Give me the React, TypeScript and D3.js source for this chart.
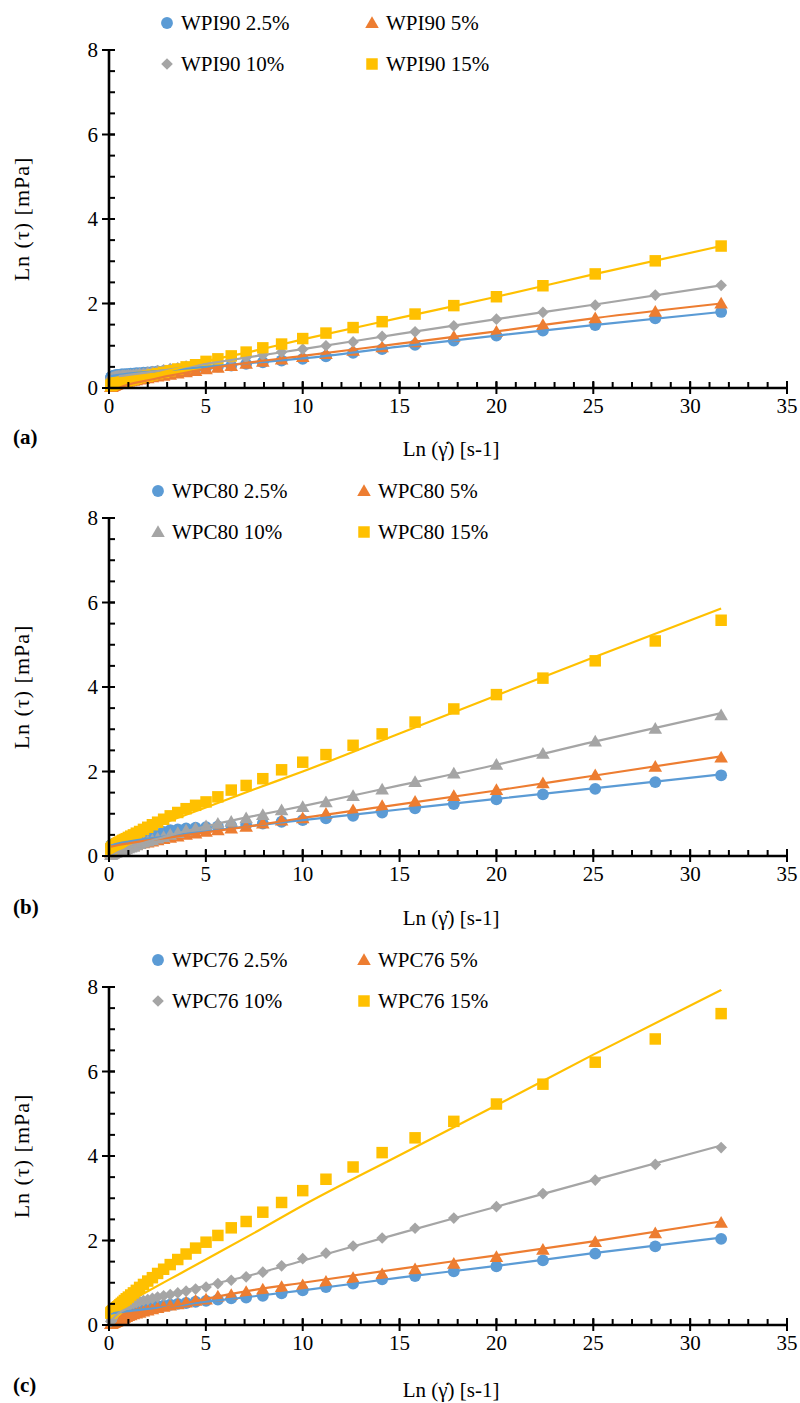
import React from 'react';
import * as d3 from 'd3';

// shear rate steps (same for every sample)
const shearRate = [
  0.1, 0.112, 0.126, 0.141, 0.158, 0.178, 0.2, 0.224, 0.251, 0.282,
  0.316, 0.355, 0.398, 0.447, 0.501, 0.562, 0.631, 0.708, 0.794, 0.891,
  1.0, 1.12, 1.26, 1.41, 1.58, 1.78, 2.0, 2.24, 2.51, 2.82,
  3.16, 3.55, 3.98, 4.47, 5.01, 5.62, 6.31, 7.08, 7.94, 8.91,
  10.0, 11.2, 12.6, 14.1, 15.8, 17.8, 20.0, 22.4, 25.1, 28.2, 31.6,
];

// x positions where the model curves were read
const fitRate = [0.1, 0.5, 1, 2, 3, 5, 7.5, 10, 15, 20, 25, 31.6];

// (a) WPI90
const wpi90_2_5 = [
  0.25, 0.25, 0.26, 0.26, 0.27, 0.27, 0.28, 0.28, 0.29, 0.29,
  0.30, 0.30, 0.30, 0.31, 0.31, 0.31, 0.32, 0.32, 0.32, 0.33,
  0.33, 0.34, 0.34, 0.35, 0.35, 0.36, 0.37, 0.38, 0.39, 0.40,
  0.41, 0.43, 0.44, 0.46, 0.49, 0.51, 0.53, 0.57, 0.61, 0.65,
  0.69, 0.75, 0.83, 0.92, 1.02, 1.12, 1.24, 1.36, 1.49, 1.65, 1.80,
];
const wpi90_5 = [
  0.02, 0.02, 0.03, 0.03, 0.04, 0.04, 0.05, 0.05, 0.06, 0.06,
  0.07, 0.07, 0.08, 0.09, 0.10, 0.10, 0.11, 0.12, 0.13, 0.14,
  0.15, 0.16, 0.17, 0.18, 0.20, 0.21, 0.23, 0.25, 0.27, 0.29,
  0.31, 0.34, 0.37, 0.40, 0.44, 0.48, 0.52, 0.57, 0.62, 0.67,
  0.73, 0.80, 0.88, 0.96, 1.08, 1.21, 1.33, 1.49, 1.65, 1.80, 2.00,
];
const wpi90_10 = [
  0.22, 0.22, 0.23, 0.23, 0.24, 0.24, 0.25, 0.25, 0.26, 0.26,
  0.27, 0.27, 0.28, 0.28, 0.29, 0.29, 0.29, 0.30, 0.30, 0.30,
  0.31, 0.31, 0.32, 0.33, 0.34, 0.35, 0.37, 0.39, 0.41, 0.43,
  0.46, 0.48, 0.52, 0.55, 0.58, 0.62, 0.67, 0.72, 0.78, 0.85,
  0.92, 1.00, 1.09, 1.22, 1.33, 1.47, 1.63, 1.79, 1.96, 2.20, 2.43,
];
const wpi90_15 = [
  0.06, 0.06, 0.07, 0.07, 0.08, 0.08, 0.09, 0.09, 0.10, 0.10,
  0.11, 0.11, 0.12, 0.12, 0.13, 0.13, 0.14, 0.15, 0.16, 0.17,
  0.18, 0.19, 0.21, 0.23, 0.25, 0.27, 0.28, 0.31, 0.34, 0.37,
  0.41, 0.45, 0.50, 0.55, 0.63, 0.69, 0.76, 0.85, 0.95, 1.04,
  1.17, 1.30, 1.43, 1.57, 1.75, 1.95, 2.16, 2.42, 2.70, 3.01, 3.36,
];
const fitWpi90_2_5 = [0.28, 0.31, 0.34, 0.38, 0.42, 0.50, 0.60, 0.70, 0.98, 1.24, 1.49, 1.80];
const fitWpi90_5 = [null, 0.0, 0.08, 0.18, 0.28, 0.45, 0.62, 0.76, 1.05, 1.34, 1.65, 2.0];
const fitWpi90_10 = [null, 0.28, 0.31, 0.37, 0.43, 0.57, 0.75, 0.92, 1.28, 1.63, 1.97, 2.43];
const fitWpi90_15 = [0.05, 0.10, 0.17, 0.29, 0.40, 0.63, 0.88, 1.15, 1.66, 2.16, 2.69, 3.36];

// (b) WPC80
const wpc80_2_5 = [
  0.25, 0.25, 0.26, 0.26, 0.27, 0.27, 0.28, 0.28, 0.29, 0.29,
  0.30, 0.30, 0.31, 0.31, 0.31, 0.32, 0.32, 0.33, 0.33, 0.33,
  0.34, 0.35, 0.36, 0.38, 0.40, 0.42, 0.44, 0.47, 0.52, 0.57,
  0.61, 0.63, 0.65, 0.67, 0.68, 0.70, 0.72, 0.74, 0.77, 0.81,
  0.85, 0.89, 0.95, 1.03, 1.13, 1.23, 1.34, 1.46, 1.59, 1.75, 1.91,
];
const wpc80_5 = [
  0.08, 0.08, 0.09, 0.09, 0.10, 0.10, 0.11, 0.11, 0.12, 0.12,
  0.13, 0.13, 0.14, 0.14, 0.15, 0.16, 0.17, 0.18, 0.19, 0.20,
  0.21, 0.22, 0.24, 0.26, 0.28, 0.30, 0.32, 0.34, 0.37, 0.40,
  0.43, 0.46, 0.50, 0.53, 0.57, 0.61, 0.65, 0.69, 0.77, 0.84,
  0.89, 1.00, 1.08, 1.18, 1.28, 1.42, 1.56, 1.72, 1.91, 2.11, 2.33,
];
const wpc80_10 = [
  0.03, 0.03, 0.04, 0.04, 0.05, 0.05, 0.06, 0.06, 0.07, 0.07,
  0.08, 0.08, 0.09, 0.09, 0.09, 0.10, 0.11, 0.12, 0.14, 0.16,
  0.18, 0.20, 0.22, 0.25, 0.28, 0.31, 0.34, 0.37, 0.41, 0.45,
  0.50, 0.54, 0.60, 0.65, 0.70, 0.76, 0.81, 0.89, 0.97, 1.08,
  1.16, 1.27, 1.42, 1.57, 1.75, 1.95, 2.16, 2.42, 2.71, 3.01, 3.33,
];
const wpc80_15 = [
  0.16, 0.17, 0.18, 0.19, 0.20, 0.21, 0.22, 0.23, 0.24, 0.25,
  0.26, 0.27, 0.28, 0.30, 0.31, 0.33, 0.35, 0.37, 0.39, 0.41,
  0.44, 0.47, 0.50, 0.54, 0.58, 0.63, 0.68, 0.74, 0.80, 0.87,
  0.95, 1.03, 1.12, 1.20, 1.28, 1.40, 1.56, 1.67, 1.83, 2.04,
  2.22, 2.40, 2.62, 2.89, 3.17, 3.48, 3.82, 4.21, 4.62, 5.09, 5.58,
];
const fitWpc80_2_5 = [0.26, 0.30, 0.34, 0.41, 0.47, 0.58, 0.72, 0.85, 1.10, 1.35, 1.60, 1.93];
const fitWpc80_5 = [0.22, 0.26, 0.30, 0.37, 0.43, 0.56, 0.72, 0.90, 1.22, 1.55, 1.90, 2.36];
const fitWpc80_10 = [0.0, 0.10, 0.18, 0.34, 0.47, 0.70, 0.95, 1.18, 1.67, 2.16, 2.70, 3.38];
const fitWpc80_15 = [0.30, 0.38, 0.46, 0.64, 0.81, 1.15, 1.58, 2.00, 2.90, 3.80, 4.70, 5.86];

// (c) WPC76
const wpc76_2_5 = [
  0.28, 0.28, 0.28, 0.29, 0.29, 0.29, 0.30, 0.30, 0.30, 0.31,
  0.31, 0.31, 0.32, 0.32, 0.32, 0.33, 0.33, 0.33, 0.34, 0.34,
  0.34, 0.35, 0.36, 0.37, 0.38, 0.40, 0.41, 0.42, 0.44, 0.46,
  0.48, 0.50, 0.52, 0.55, 0.57, 0.60, 0.63, 0.65, 0.69, 0.75,
  0.82, 0.90, 0.98, 1.08, 1.16, 1.27, 1.39, 1.53, 1.69, 1.86, 2.04,
];
const wpc76_5 = [
  0.02, 0.02, 0.03, 0.03, 0.04, 0.04, 0.05, 0.05, 0.06, 0.06,
  0.07, 0.07, 0.08, 0.09, 0.10, 0.12, 0.13, 0.15, 0.17, 0.19,
  0.21, 0.23, 0.25, 0.27, 0.29, 0.32, 0.34, 0.37, 0.40, 0.43,
  0.46, 0.49, 0.53, 0.57, 0.60, 0.67, 0.71, 0.78, 0.84, 0.90,
  0.94, 1.02, 1.11, 1.20, 1.32, 1.45, 1.61, 1.78, 1.96, 2.17, 2.42,
];
const wpc76_10 = [
  0.08, 0.09, 0.11, 0.13, 0.15, 0.17, 0.19, 0.21, 0.23, 0.25,
  0.27, 0.29, 0.31, 0.33, 0.35, 0.37, 0.39, 0.41, 0.43, 0.45,
  0.47, 0.49, 0.51, 0.53, 0.56, 0.58, 0.60, 0.63, 0.66, 0.69,
  0.72, 0.76, 0.80, 0.85, 0.90, 0.98, 1.06, 1.14, 1.25, 1.40,
  1.57, 1.70, 1.87, 2.06, 2.29, 2.53, 2.80, 3.11, 3.43, 3.80, 4.20,
];
const wpc76_15 = [
  0.28, 0.29, 0.30, 0.31, 0.31, 0.32, 0.33, 0.34, 0.35, 0.36,
  0.37, 0.39, 0.41, 0.43, 0.45, 0.48, 0.51, 0.54, 0.58, 0.62,
  0.66, 0.71, 0.76, 0.82, 0.89, 0.96, 1.04, 1.12, 1.22, 1.32,
  1.43, 1.55, 1.68, 1.82, 1.96, 2.12, 2.30, 2.45, 2.67, 2.90,
  3.18, 3.45, 3.74, 4.08, 4.43, 4.82, 5.23, 5.70, 6.22, 6.77, 7.37,
];
const fitWpc76_2_5 = [0.27, 0.30, 0.33, 0.38, 0.43, 0.55, 0.68, 0.82, 1.12, 1.40, 1.70, 2.07];
const fitWpc76_5 = [null, 0.05, 0.15, 0.30, 0.42, 0.62, 0.83, 1.00, 1.33, 1.65, 1.98, 2.45];
const fitWpc76_10 = [0.10, 0.28, 0.40, 0.58, 0.72, 0.93, 1.20, 1.52, 2.17, 2.80, 3.43, 4.25];
const fitWpc76_15 = [0.30, 0.42, 0.55, 0.80, 1.05, 1.55, 2.18, 2.83, 4.02, 5.20, 6.40, 7.93];

const concentrations = ['2.5%', '5%', '10%', '15%'];
const colors = ['#5B9BD5', '#ED7D31', '#A5A5A5', '#FFC000'];
const xTicks = [0, 5, 10, 15, 20, 25, 30, 35];
const yTicks = [0, 2, 4, 6, 8];

const panels = [
  {
    tag: '(a)', product: 'WPI90',
    series: [wpi90_2_5, wpi90_5, wpi90_10, wpi90_15],
    fits: [fitWpi90_2_5, fitWpi90_5, fitWpi90_10, fitWpi90_15],
    shapes: ['circle', 'triangle', 'diamond', 'square'],
    y0: 388, legendX: [167, 372], tagDy: 49, titleDy: 61,
  },
  {
    tag: '(b)', product: 'WPC80',
    series: [wpc80_2_5, wpc80_5, wpc80_10, wpc80_15],
    fits: [fitWpc80_2_5, fitWpc80_5, fitWpc80_10, fitWpc80_15],
    shapes: ['circle', 'triangle', 'triangle', 'square'],
    y0: 856, legendX: [158, 364], tagDy: 51, titleDy: 62,
  },
  {
    tag: '(c)', product: 'WPC76',
    series: [wpc76_2_5, wpc76_5, wpc76_10, wpc76_15],
    fits: [fitWpc76_2_5, fitWpc76_5, fitWpc76_10, fitWpc76_15],
    shapes: ['circle', 'triangle', 'diamond', 'square'],
    y0: 1325, legendX: [158, 364], tagDy: 60, titleDy: 65,
  },
];

const FONT = '"Times New Roman", "Liberation Serif", serif';
const PLOT_H = 338;

function markerPath(shape: string) {
  if (shape === 'circle') return d3.symbol().type(d3.symbolCircle).size(110)();
  if (shape === 'triangle') return d3.symbol().type(d3.symbolTriangle).size(80)();
  if (shape === 'diamond') return d3.symbol().type(d3.symbolSquare).size(68)();
  return d3.symbol().type(d3.symbolSquare).size(132)();
}

function Marker({ shape, cx, cy, color }: any) {
  const rot = shape === 'diamond' ? ' rotate(45)' : '';
  const dy = shape === 'triangle' ? 1 : 0;
  return <path d={markerPath(shape) as string} transform={`translate(${cx},${cy + dy})${rot}`} fill={color} />;
}

function Panel({ p }: any) {
  const x = d3.scaleLinear().domain([0, 35]).range([109, 787]);
  const y = d3.scaleLinear().domain([0, 8]).range([p.y0, p.y0 - PLOT_H]);
  const line = d3.line<any>()
    .defined((d) => d[1] != null)
    .x((d) => x(d[0]))
    .y((d) => y(d[1]))
    .curve(d3.curveMonotoneX);

  const xMinor = d3.range(0, 36, 1);
  const yMinor = d3.range(0, 8.01, 0.5);
  const rowY = [p.y0 - 365, p.y0 - 324];

  return (
    <g>
      {/* markers */}
      {p.series.map((vals: number[], si: number) => (
        <g key={'m' + si}>
          {vals.map((v, i) => (
            <Marker key={i} shape={p.shapes[si]} cx={x(shearRate[i])} cy={y(v)} color={colors[si]} />
          ))}
        </g>
      ))}
      {/* model curves */}
      {p.fits.map((vals: (number | null)[], si: number) => (
        <path key={'f' + si} d={line(fitRate.map((r, i) => [r, vals[i]])) as string}
          fill="none" stroke={colors[si]} strokeWidth={2.2} />
      ))}

      {/* axes */}
      <g stroke="#000" strokeWidth={2}>
        {xMinor.map((t) => (
          <line key={'xm' + t} x1={x(t)} x2={x(t)} y1={p.y0} y2={p.y0 - 6} />
        ))}
        {xTicks.map((t) => (
          <line key={'xM' + t} x1={x(t)} x2={x(t)} y1={p.y0 - 7} y2={p.y0 + 6} />
        ))}
        {yMinor.map((t) => (
          <line key={'ym' + t} x1={x(0)} x2={x(0) + 6} y1={y(t)} y2={y(t)} />
        ))}
        {yTicks.map((t) => (
          <line key={'yM' + t} x1={x(0) - 7} x2={x(0) + 6} y1={y(t)} y2={y(t)} />
        ))}
      </g>
      <line x1={x(0)} x2={x(35)} y1={y(0)} y2={y(0)} stroke="#000" strokeWidth={2.6} />
      <line x1={x(0)} x2={x(0)} y1={y(0) + 1} y2={y(8)} stroke="#000" strokeWidth={2.6} />

      <g fontFamily={FONT} fontSize={21} fill="#000">
        {xTicks.map((t) => (
          <text key={'xl' + t} x={x(t)} y={p.y0 + 25} textAnchor="middle">{t}</text>
        ))}
        {yTicks.map((t) => (
          <text key={'yl' + t} x={x(0) - 11} y={y(t) + 7} textAnchor="end">{t}</text>
        ))}
        <text x={451} y={p.y0 + p.titleDy + 7} textAnchor="middle">{'Ln (\u03B3\u0307) [s-1]'}</text>
        <text x={13} y={p.y0 + p.tagDy + 7} fontWeight="bold">{p.tag}</text>
        <text transform={`translate(29,${y(4)}) rotate(-90)`} textAnchor="middle" fontSize={22} letterSpacing={1}>
          {'Ln (\u03C4) [mPa]'}
        </text>
      </g>

      {/* legend */}
      {concentrations.map((c, si) => {
        const lx = p.legendX[si % 2];
        const ly = rowY[Math.floor(si / 2)];
        return (
          <g key={'lg' + si}>
            <Marker shape={p.shapes[si]} cx={lx} cy={ly} color={colors[si]} />
            <text x={lx + 14} y={ly + 7} fontFamily={FONT} fontSize={21} fill="#000">
              {`${p.product} ${c}`}
            </text>
          </g>
        );
      })}
    </g>
  );
}

export default function App() {
  return (
    <svg width={800} height={1403} style={{ position: 'absolute', left: 0, top: 0, background: '#fff' }}>
      <rect width={800} height={1403} fill="#fff" />
      {panels.map((p) => (
        <Panel key={p.tag} p={p} />
      ))}
    </svg>
  );
}
